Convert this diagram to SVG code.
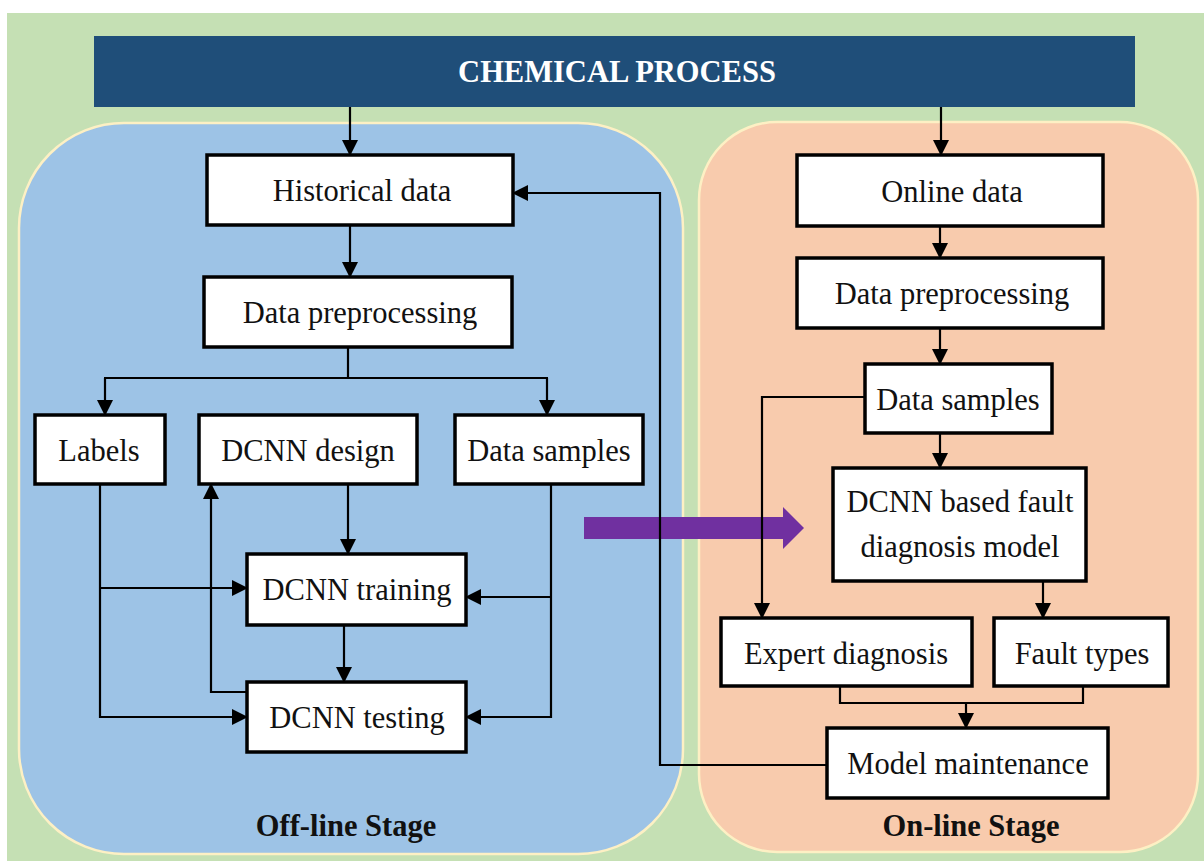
<svg xmlns="http://www.w3.org/2000/svg" width="1204" height="861" viewBox="0 0 1204 861">
  <defs>
    <marker id="arrow" markerUnits="userSpaceOnUse" markerWidth="16" markerHeight="16" viewBox="0 0 16 16" refX="15" refY="8" orient="auto">
      <path d="M0,0 L16,8 L0,16 Z" fill="#000"/>
    </marker>
    <style>
      .box { fill: #ffffff; stroke: #000; stroke-width: 3.5; }
      .lbl { font-family: "Liberation Serif", "Times New Roman", serif; font-size: 30.5px; fill: #111; text-anchor: middle; }
      .title { font-family: "Liberation Serif", "Times New Roman", serif; font-size: 30.5px; font-weight: bold; fill: #ffffff; text-anchor: middle; }
      .stage { font-family: "Liberation Serif", "Times New Roman", serif; font-size: 30.5px; font-weight: bold; fill: #111; text-anchor: middle; }
      .wire { fill: none; stroke: #000; stroke-width: 2.2; }
      .wire-a { fill: none; stroke: #000; stroke-width: 2.2; marker-end: url(#arrow); }
      .panel { stroke: #fdf0c4; stroke-width: 2.5; }
    </style>
  </defs>

  <!-- page background -->
  <rect x="0" y="0" width="1204" height="861" fill="#ffffff"/>
  <rect x="7" y="13" width="1197" height="848" fill="#c5e0b4"/>

  <!-- stage panels -->
  <rect id="offline-panel" class="panel" x="19" y="123" width="664" height="731" rx="105" ry="105" fill="#9dc3e6"/>
  <rect id="online-panel" class="panel" x="699" y="122" width="499" height="730" rx="78" ry="78" fill="#f8cbad"/>

  <!-- transfer arrow between stages -->
  <g id="transfer-arrow">
    <polygon points="584,517 783,517 783,507 804,528 783,549 783,539 584,539" fill="#7030a0"/>
  </g>

  <!-- connectors -->
  <g id="connectors">
    <!-- off-line stage -->
    <path class="wire-a" d="M350,107 V155"/>
    <path class="wire-a" d="M350,225 V277"/>
    <path class="wire" d="M348,347 V378"/>
    <path class="wire" d="M104,378 H548"/>
    <path class="wire-a" d="M105,378 V415"/>
    <path class="wire-a" d="M547,378 V415"/>
    <path class="wire-a" d="M100,484 V717 H247"/>
    <path class="wire-a" d="M100,588 H247"/>
    <path class="wire-a" d="M348,484 V554"/>
    <path class="wire-a" d="M344,625 V682"/>
    <path class="wire-a" d="M247,692 H211 V484"/>
    <path class="wire-a" d="M551,484 V717 H466"/>
    <path class="wire-a" d="M551,597 H466"/>
    <!-- feedback from model maintenance -->
    <path class="wire-a" d="M827,765 H660 V193 H513"/>
    <!-- on-line stage -->
    <path class="wire-a" d="M941,107 V155"/>
    <path class="wire-a" d="M940,226 V258"/>
    <path class="wire-a" d="M940,328 V364"/>
    <path class="wire-a" d="M940,433 V468"/>
    <path class="wire-a" d="M865,397 H762 V618"/>
    <path class="wire-a" d="M1043,581 V618"/>
    <path class="wire" d="M840,686 V703 H1083 V686"/>
    <path class="wire-a" d="M966,703 V728"/>
  </g>

  <!-- header -->
  <g id="chemical-process">
    <rect x="94" y="36" width="1041" height="71" fill="#1f4e79"/>
    <text class="title" x="617" y="82">CHEMICAL PROCESS</text>
  </g>

  <!-- off-line stage nodes -->
  <g id="historical-data">
    <rect class="box" x="207" y="155" width="306" height="70"/>
    <text class="lbl" x="362" y="201">Historical data</text>
  </g>
  <g id="data-preprocessing-offline">
    <rect class="box" x="204" y="277" width="308" height="70"/>
    <text class="lbl" x="360" y="323">Data preprocessing</text>
  </g>
  <g id="labels">
    <rect class="box" x="35" y="415" width="130" height="69"/>
    <text class="lbl" x="99" y="461">Labels</text>
  </g>
  <g id="dcnn-design">
    <rect class="box" x="199" y="415" width="218" height="69"/>
    <text class="lbl" x="308" y="461">DCNN design</text>
  </g>
  <g id="data-samples-offline">
    <rect class="box" x="455" y="415" width="188" height="69"/>
    <text class="lbl" x="549" y="461">Data samples</text>
  </g>
  <g id="dcnn-training">
    <rect class="box" x="247" y="554" width="219" height="71"/>
    <text class="lbl" x="357" y="600">DCNN training</text>
  </g>
  <g id="dcnn-testing">
    <rect class="box" x="247" y="682" width="219" height="70"/>
    <text class="lbl" x="357" y="728">DCNN testing</text>
  </g>
  <g id="offline-stage-label">
    <text class="stage" x="346" y="836">Off-line Stage</text>
  </g>

  <!-- on-line stage nodes -->
  <g id="online-data">
    <rect class="box" x="797" y="155" width="306" height="71"/>
    <text class="lbl" x="952" y="202">Online data</text>
  </g>
  <g id="data-preprocessing-online">
    <rect class="box" x="797" y="258" width="306" height="70"/>
    <text class="lbl" x="952" y="304">Data preprocessing</text>
  </g>
  <g id="data-samples-online">
    <rect class="box" x="865" y="364" width="187" height="69"/>
    <text class="lbl" x="958" y="410">Data samples</text>
  </g>
  <g id="fault-diagnosis-model">
    <rect class="box" x="833" y="468" width="253" height="113"/>
    <text class="lbl" x="960" y="512">DCNN based fault</text>
    <text class="lbl" x="960" y="557">diagnosis model</text>
  </g>
  <g id="expert-diagnosis">
    <rect class="box" x="721" y="618" width="251" height="68"/>
    <text class="lbl" x="846" y="664">Expert diagnosis</text>
  </g>
  <g id="fault-types">
    <rect class="box" x="994" y="618" width="174" height="68"/>
    <text class="lbl" x="1082" y="664">Fault types</text>
  </g>
  <g id="model-maintenance">
    <rect class="box" x="827" y="728" width="281" height="70"/>
    <text class="lbl" x="968" y="774">Model maintenance</text>
  </g>
  <g id="online-stage-label">
    <text class="stage" x="971" y="836">On-line Stage</text>
  </g>
</svg>
